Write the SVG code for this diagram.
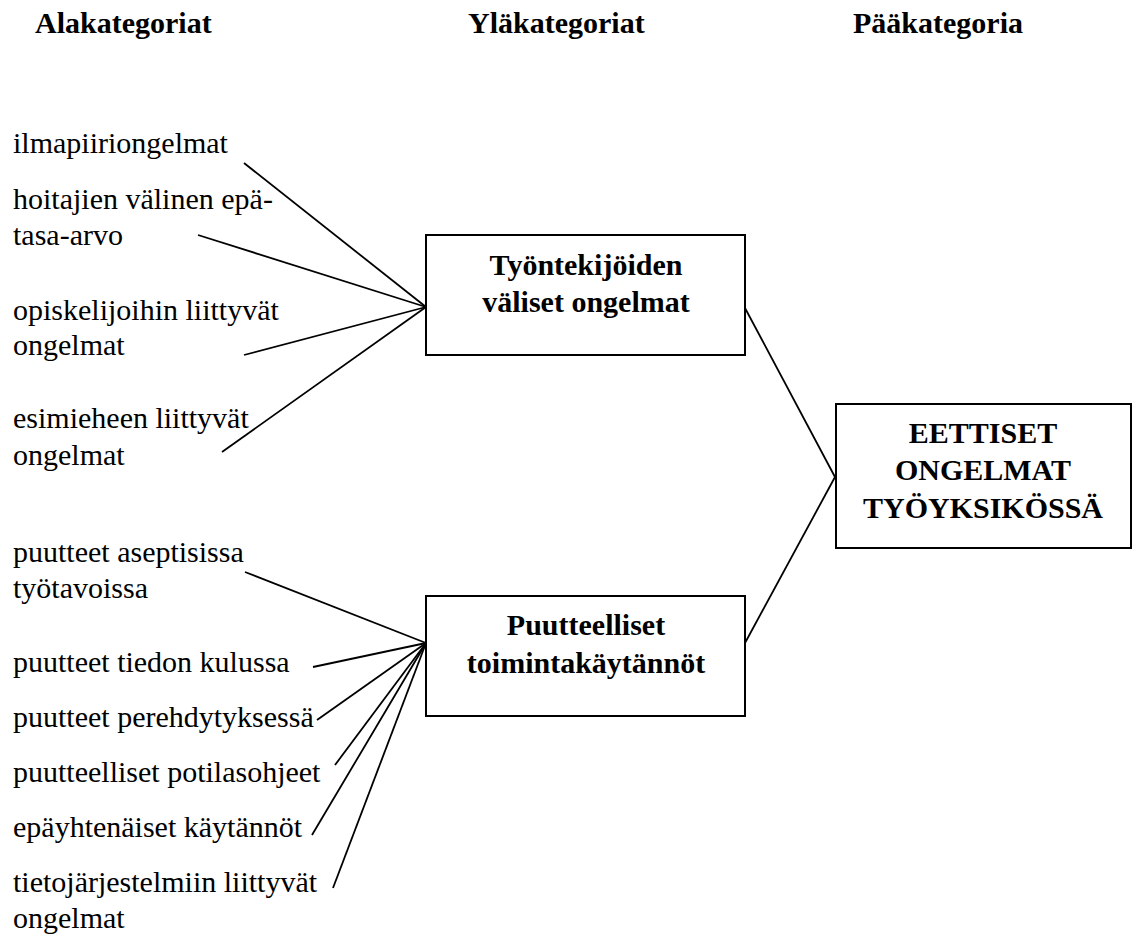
<svg xmlns="http://www.w3.org/2000/svg" width="1133" height="937" viewBox="0 0 1133 937">
<style>
text{font-family:'Liberation Serif','Times New Roman',Times,'Nimbus Roman','DejaVu Serif',serif;font-size:30px;fill:#000}
.b{font-weight:bold}
.c{text-anchor:middle}
.box{fill:#fff;stroke:#000;stroke-width:2}
.ln{stroke:#000;stroke-width:1.8;fill:none}
</style>
<rect width="1133" height="937" fill="#fff"/>
<g id="headers" font-family="Liberation Serif, serif">
<text class="b" x="35" y="33">Alakategoriat</text>
<text class="b" x="468" y="33">Yläkategoriat</text>
<text class="b" x="853" y="33">Pääkategoria</text>
</g>
<g id="connectors">
<line class="ln" x1="244" y1="163" x2="426" y2="307"/>
<line class="ln" x1="198" y1="235" x2="426" y2="307"/>
<line class="ln" x1="244" y1="355" x2="426" y2="307"/>
<line class="ln" x1="222" y1="452" x2="426" y2="307"/>
<line class="ln" x1="245" y1="572" x2="426" y2="643"/>
<line class="ln" x1="313" y1="667" x2="426" y2="643"/>
<line class="ln" x1="317" y1="720" x2="426" y2="643"/>
<line class="ln" x1="335" y1="765" x2="426" y2="643"/>
<line class="ln" x1="312" y1="835" x2="426" y2="643"/>
<line class="ln" x1="333" y1="888" x2="426" y2="643"/>
<line class="ln" x1="745" y1="308" x2="835" y2="477"/>
<line class="ln" x1="745" y1="643" x2="835" y2="477"/>
</g>
<g font-family="Liberation Serif, serif">
<g id="sub-ilmapiiri"><text x="13" y="153">ilmapiiriongelmat</text></g>
<g id="sub-tasa-arvo"><text x="13" y="209">hoitajien välinen epä-</text><text x="13" y="245">tasa-arvo</text></g>
<g id="sub-opiskelijat"><text x="13" y="320">opiskelijoihin liittyvät</text><text x="13" y="355">ongelmat</text></g>
<g id="sub-esimies"><text x="13" y="428">esimieheen liittyvät</text><text x="13" y="465">ongelmat</text></g>
<g id="sub-aseptiikka"><text x="13" y="562">puutteet aseptisissa</text><text x="13" y="598">työtavoissa</text></g>
<g id="sub-tiedonkulku"><text x="13" y="672">puutteet tiedon kulussa</text></g>
<g id="sub-perehdytys"><text x="13" y="727">puutteet perehdytyksessä</text></g>
<g id="sub-potilasohjeet"><text x="13" y="782">puutteelliset potilasohjeet</text></g>
<g id="sub-kaytannot"><text x="13" y="837">epäyhtenäiset käytännöt</text></g>
<g id="sub-tietojarjestelmat"><text x="13" y="892">tietojärjestelmiin liittyvät</text><text x="13" y="928">ongelmat</text></g>
<g id="node-tyontekijat">
<rect class="box" x="426" y="235" width="319" height="120"/>
<text class="b c" x="586" y="275">Työntekijöiden</text>
<text class="b c" x="586" y="312">väliset ongelmat</text>
</g>
<g id="node-toimintakaytannot">
<rect class="box" x="426" y="596" width="319" height="120"/>
<text class="b c" x="586" y="635">Puutteelliset</text>
<text class="b c" x="586" y="673">toimintakäytännöt</text>
</g>
<g id="node-eettiset">
<rect class="box" x="836" y="404" width="295" height="144"/>
<text class="b c" x="983" y="443">EETTISET</text>
<text class="b c" x="983" y="480">ONGELMAT</text>
<text class="b c" x="983" y="518">TYÖYKSIKÖSSÄ</text>
</g>
</g>
</svg>
